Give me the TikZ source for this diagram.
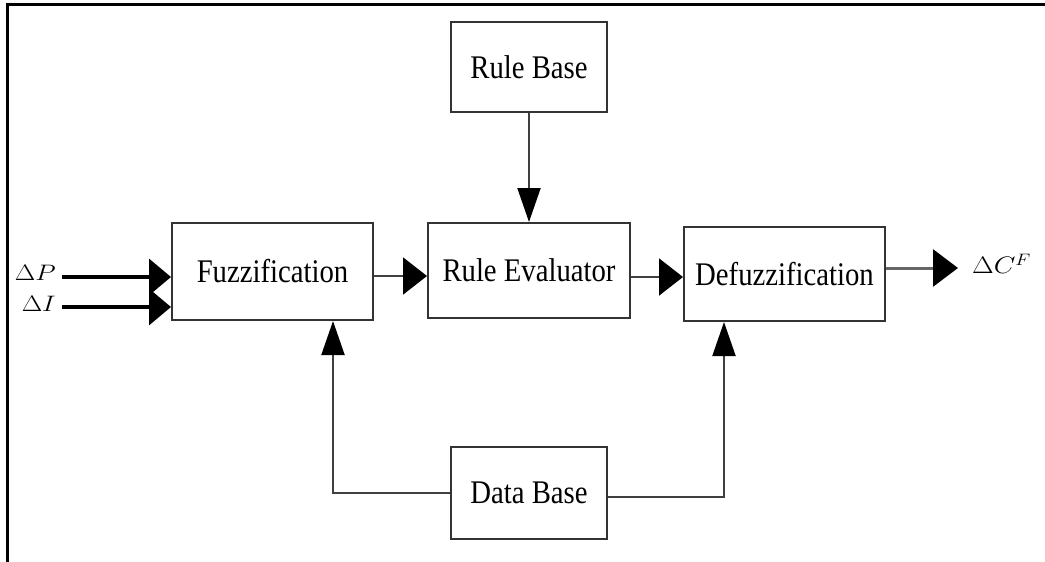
\documentclass[tikz,border=0pt]{standalone}
\usepackage{fontspec}
\setmainfont{Liberation Serif}
\usetikzlibrary{arrows.meta}
\tikzset{
  blk/.style={draw=black!80, line width=2pt, rectangle, inner sep=0pt, fill=white,
    font=\fontsize{33}{38}\selectfont},
  harr/.style={draw=black!75, line width=2pt, -{Triangle[length=24pt,width=37pt,color=black]}},
  varr/.style={draw=black!75, line width=2pt, -{Triangle[length=34pt,width=23pt,color=black]}},
  inarr/.style={draw=black, line width=3.5pt, -{Triangle[length=22pt,width=36pt,color=black]}},
  outarr/.style={draw=black!60, line width=3pt, -{Triangle[length=25pt,width=37pt,color=black]}},
  lbl/.style={inner sep=0pt, font=\fontsize{20.74}{25}\selectfont},
  frameline/.style={line width=3pt, draw=black}
}
\newcommand{\tx}[1]{\scalebox{0.87}[1]{#1}}
\newcommand{\lb}[1]{\scalebox{1.28}[1.08]{#1}}
\begin{document}
\begin{tikzpicture}[x=1pt,y=-1pt]
\useasboundingbox (0,0) rectangle (1045,562);
\draw[frameline] (7,562) -- (7,4) -- (1045,4);

\node[blk, minimum width=156pt, minimum height=90pt] (rb) at (529,67) {\tx{Rule Base}};
\node[blk, minimum width=201pt, minimum height=97pt] (fz) at (272.5,271.5) {\tx{Fuzzification}};
\node[blk, minimum width=202pt, minimum height=95pt] (re) at (529,270.5) {\tx{Rule Evaluator}};
\node[blk, minimum width=201pt, minimum height=94pt] (df) at (784.5,274) {\tx{Defuzzification}};
\node[blk, minimum width=156pt, minimum height=92pt] (db) at (529,493) {\tx{Data Base}};

\node[lbl, anchor=east] (dP) at (56,273) {\lb{$\Delta P$}};
\node[lbl, anchor=east] (dI) at (56,304) {\lb{$\Delta I$}};
\node[lbl, anchor=west] (dC) at (972,264) {\scalebox{1.35}[1.15]{$\Delta C^F$}};

\coordinate (p0) at (62,277);
\coordinate (i0) at (62,307);
\coordinate (c1) at (958,268);

\draw[inarr] (p0) -- (p0 -| fz.west);
\draw[inarr] (i0) -- (i0 -| fz.west);
\draw[harr] ([yshift=-4.5pt]fz.east) -- ([yshift=-5.5pt]re.west);
\draw[harr] ([yshift=-6.5pt]re.east) -- ([yshift=-3pt]df.west);
\draw[varr] (rb.south) -- (re.north);
\draw[varr] (db.west) -| ([xshift=60.5pt]fz.south);
\draw[varr] ([yshift=-4pt]db.east) -| ([xshift=-60.5pt]df.south);
\draw[outarr] (df.east |- c1) -- (c1);
\end{tikzpicture}
\end{document}
